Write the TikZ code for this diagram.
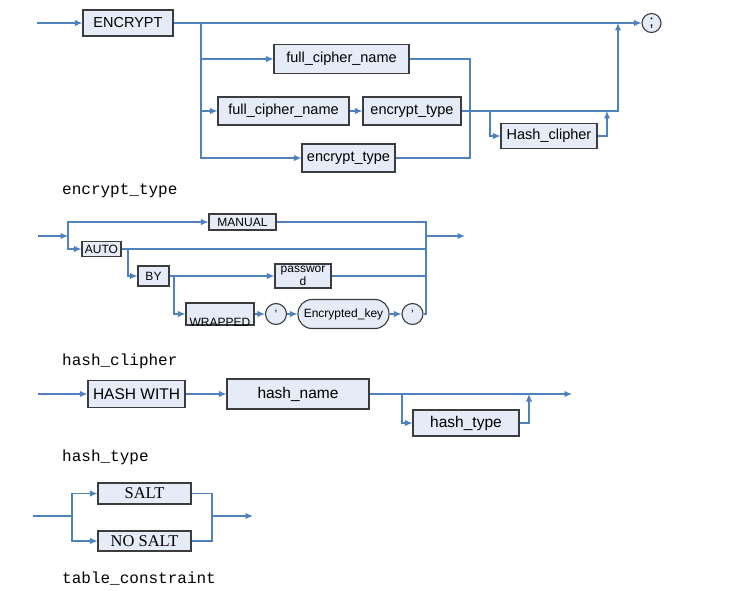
\documentclass[tikz,border=0pt]{standalone}
\usepackage{fontspec}
\setmainfont{Liberation Sans}
\setmonofont{Liberation Mono}
\newfontfamily\timesfont{Liberation Serif}
\usetikzlibrary{arrows.meta}

\definecolor{railblue}{RGB}{79,129,189}
\definecolor{boxfill}{RGB}{229,236,247}
\definecolor{boxedge}{RGB}{60,60,60}

\begin{document}
\begin{tikzpicture}[x=1pt,y=-1pt,
  rail/.style={draw=railblue,line width=1.2pt},
  railarrow/.style={rail,-{Latex[length=7.5pt,width=6.5pt]}},
  kbox/.style={draw=boxedge,fill=boxfill,line width=1.1pt,inner sep=0pt},
  kcirc/.style={kbox,circle,minimum size=21pt},
  fbig/.style={font=\fontsize{14.5}{17}\selectfont},
  fsmall/.style={font=\fontsize{12}{14}\selectfont},
  fmid/.style={font=\fontsize{15.5}{18}\selectfont},
  fserif/.style={font=\timesfont\fontsize{16.5}{19}\selectfont},
  rulename/.style={anchor=base west,inner sep=0pt,font=\ttfamily\fontsize{16}{18}\selectfont}]
  \useasboundingbox (0,0) rectangle (741,591);

  % encrypt clause
  \node[kbox,fbig,minimum width=90pt,minimum height=26pt] (encrypt) at (128,23) {ENCRYPT};
  \node[kbox,fbig,minimum width=135pt,minimum height=29pt] (fcnA) at (341.5,59) {full\_cipher\_name};
  \node[kbox,fbig,minimum width=131pt,minimum height=28pt] (fcnB) at (283.5,111) {full\_cipher\_name};
  \node[kbox,fbig,minimum width=98pt,minimum height=28pt] (etB) at (412,111) {encrypt\_type};
  \node[kbox,fbig,minimum width=93pt,minimum height=28pt] (etC) at (348.5,158) {encrypt\_type};
  \node[kbox,fbig,minimum width=96pt,minimum height=25pt] (hashc) at (549,136) {Hash\_clipher};
  \node[kbox,font=\fontsize{16}{18}\selectfont,circle,minimum size=19pt] (semi) at (651.5,23) {;};

  \coordinate (s1in) at (37,23);
  \coordinate (j1) at (201,23);
  \coordinate (jR) at (470,111);
  \coordinate (jTop) at (618,23);
  \coordinate (jH) at (490,111);
  \coordinate (jHr) at (607,111);

  \draw[railarrow] (s1in) -- (encrypt.west);
  \draw[railarrow] (encrypt.east) -- (semi.west);
  \draw[railarrow] (j1) |- (fcnA.west);
  \draw[railarrow] (j1) |- (fcnB.west);
  \draw[railarrow] (j1) |- (etC.west);
  \draw[railarrow] (fcnB.east) -- (etB.west);
  \draw[rail] (fcnA.east) -| (jR) |- (etC.east);
  \draw[railarrow] (etB.east) -| (jTop);
  \draw[railarrow] (jH) |- (hashc.west);
  \draw[railarrow] (hashc.east) -| (jHr);

  \node[rulename] (lblEncType) at (62,194) {encrypt\_type};

  % encrypt_type
  \node[kbox,fsmall,minimum width=67pt,minimum height=16pt] (manual) at (242.5,222) {MANUAL};
  \node[kbox,fsmall,minimum width=39pt,minimum height=15pt] (auto) at (101.5,249) {AUTO};
  \node[kbox,fsmall,minimum width=31pt,minimum height=20pt] (by) at (153.5,276) {BY};
  \node[kbox,fsmall,align=center,minimum width=56pt,minimum height=24pt] (pwd) at (303,276) {passwor\\[-1pt]d};
  \node[kbox,minimum width=68pt,minimum height=22pt] (wrapped) at (220,314) {};
  \node[fsmall,anchor=base,inner sep=0pt] (wrappedTxt) at (220,326) {WRAPPED};
  \node[kcirc,fsmall] (q1) at (276,314) {'};
  \node[kbox,fsmall,rounded corners=14pt,minimum width=91pt,minimum height=29pt] (ekey) at (343.5,314) {Encrypted\_key};
  \node[kcirc,fsmall] (q2) at (412.5,314) {'};

  \coordinate (s2in) at (38,236);
  \coordinate (s2j) at (68,236);
  \coordinate (s2r) at (426,236);
  \coordinate (s2out) at (465,236);
  \coordinate (jBy) at (128,249);
  \coordinate (jWr) at (174,276);

  \draw[railarrow] (s2in) -- (s2j);
  \draw[railarrow] (s2j) |- (manual.west);
  \draw[railarrow] (s2j) |- (auto.west);
  \draw[rail] (manual.east) -| (s2r |- q2.east) -- (q2.east);
  \draw[rail] (auto.east) -- (auto.east -| s2r);
  \draw[railarrow] (jBy) |- (by.west);
  \draw[railarrow] (by.east) -- (pwd.west);
  \draw[rail] (pwd.east) -- (pwd.east -| s2r);
  \draw[railarrow] (jWr) |- (wrapped.west);
  \draw[railarrow] (wrapped.east) -- (q1.west);
  \draw[railarrow] (q1.east) -- (ekey.west);
  \draw[railarrow] (ekey.east) -- (q2.west);
  \draw[railarrow] (s2r) -- (s2out);

  \node[rulename] (lblHashC) at (62,365) {hash\_clipher};

  % hash_clipher
  \node[kbox,fmid,minimum width=97pt,minimum height=27pt] (hashwith) at (136.5,394) {HASH WITH};
  \node[kbox,fmid,minimum width=142pt,minimum height=30pt] (hashname) at (298,394) {hash\_name};
  \node[kbox,fmid,minimum width=106pt,minimum height=26pt] (hasht) at (466,423) {hash\_type};

  \coordinate (s3in) at (38,394);
  \coordinate (s3out) at (572,394);
  \coordinate (jT) at (402,394);
  \coordinate (jTr) at (529,394);

  \draw[railarrow] (s3in) -- (hashwith.west);
  \draw[railarrow] (hashwith.east) -- (hashname.west);
  \draw[railarrow] (hashname.east) -- (s3out);
  \draw[railarrow] (jT) |- (hasht.west);
  \draw[railarrow] (hasht.east) -| (jTr);

  \node[rulename] (lblHashT) at (62,461) {hash\_type};

  % hash_type
  \node[kbox,fserif,minimum width=93pt,minimum height=21pt] (salt) at (144.5,493.5) {SALT};
  \node[kbox,fserif,minimum width=93pt,minimum height=20pt] (nosalt) at (144.5,541) {NO SALT};

  \coordinate (s4in) at (33,516);
  \coordinate (s4j) at (72,516);
  \coordinate (s4r) at (212,516);
  \coordinate (s4out) at (253,516);

  \draw[rail] (s4in) -- (s4j);
  \draw[railarrow] (s4j) |- (salt.west);
  \draw[railarrow] (s4j) |- (nosalt.west);
  \draw[rail] (salt.east) -| (s4r);
  \draw[rail] (nosalt.east) -| (s4r);
  \draw[railarrow] (s4r) -- (s4out);

  \node[rulename] (lblTable) at (62,583) {table\_constraint};
\end{tikzpicture}
\end{document}
